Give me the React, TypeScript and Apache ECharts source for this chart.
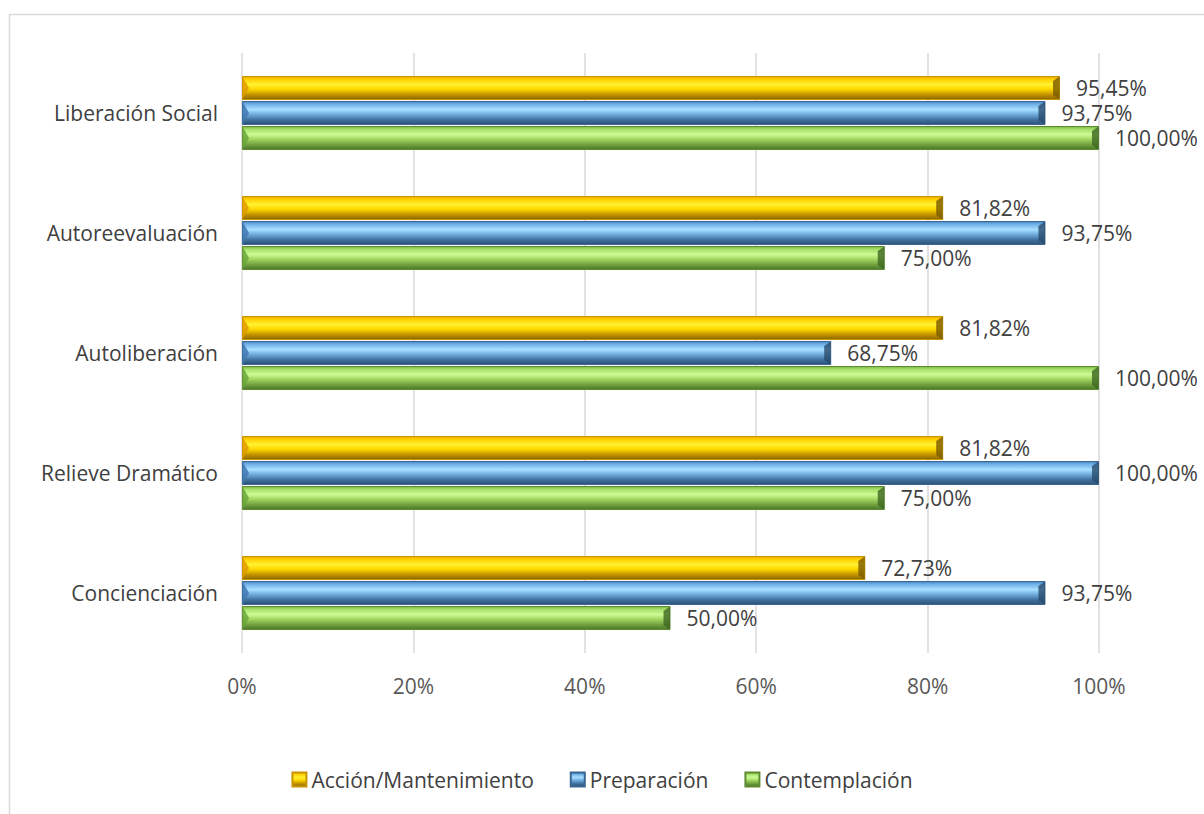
import React, { useEffect, useRef } from "react";
import * as echarts from "echarts";

const categories = [
  "Concienciación",
  "Relieve Dramático",
  "Autoliberación",
  "Autoreevaluación",
  "Liberación Social",
];
const seriesNames = ["Acción/Mantenimiento", "Preparación", "Contemplación"];
const accion = [72.73, 81.82, 81.82, 81.82, 95.45];
const preparacion = [93.75, 100.0, 68.75, 93.75, 93.75];
const contemplacion = [50.0, 75.0, 100.0, 75.0, 100.0];
const xTicks = [0, 20, 40, 60, 80, 100];

const FONT = "'Open Sans', 'Noto Sans', sans-serif";
const FS = 21;
const BAR_W = 24;
const GAP = 1;

const grad = (stops: [number, string][]) =>
  new echarts.graphic.LinearGradient(
    0,
    0,
    0,
    1,
    stops.map(([offset, color]) => ({ offset, color }))
  );

const yellow = grad([
  [0, "#E8A800"],
  [0.12, "#FFD000"],
  [0.35, "#FFF030"],
  [0.55, "#FFD800"],
  [0.8, "#C09000"],
  [1, "#8A6800"],
]);
const blue = grad([
  [0, "#4A86C4"],
  [0.12, "#6FB0E8"],
  [0.35, "#A8DEFF"],
  [0.55, "#72AEE0"],
  [0.8, "#40709E"],
  [1, "#2C5278"],
]);
const green = grad([
  [0, "#78B840"],
  [0.12, "#A6E06A"],
  [0.35, "#CCFA94"],
  [0.55, "#A2D864"],
  [0.8, "#6E9E3C"],
  [1, "#4C762A"],
]);

const bevels = [
  { left: "#E09A00", right: "#7A5A00" },
  { left: "#3F78B4", right: "#284A6C" },
  { left: "#6AA63A", right: "#3E6622" },
];

const fmt = (v: number) => v.toFixed(2).replace(".", ",") + "%";

export default function App() {
  const ref = useRef<HTMLDivElement>(null);
  useEffect(() => {
    document.body.style.margin = "0";
    const chart = echarts.init(ref.current!, null, { renderer: "svg" });
    const label = {
      show: true,
      position: "right" as const,
      distance: 16,
      color: "#404040",
      fontSize: FS,
      fontFamily: FONT,
      formatter: (p: any) => fmt(p.value),
    };
    const mk = (name: string, data: number[], color: any, border: string) => ({
      name,
      type: "bar",
      data,
      barWidth: BAR_W,
      barGap: (GAP / BAR_W) * 100 + "%",
      itemStyle: { color, borderColor: border, borderWidth: 1 },
      label,
    });
    const all = [accion, preparacion, contemplacion];
    const total = 3 * BAR_W + 2 * GAP;
    const bevelSeries = all.map((arr, k) => ({
      type: "custom",
      silent: true,
      z: 3,
      data: arr.map((v, i) => [v, i]),
      renderItem: (params: any, api: any) => {
        const v = api.value(0);
        const idx = api.value(1);
        const end = api.coord([v, idx]);
        const start = api.coord([0, idx]);
        const y0 = end[1] - total / 2 + k * (BAR_W + GAP);
        const x0 = start[0];
        const x1 = end[0];
        const h = BAR_W;
        const b = 7;
        return {
          type: "group",
          children: [
            {
              type: "polygon",
              shape: {
                points: [
                  [x0 + 0.5, y0 + 0.5],
                  [x0 + b, y0 + h / 2],
                  [x0 + 0.5, y0 + h - 0.5],
                ],
              },
              style: { fill: bevels[k].left, opacity: 0.85 },
            },
            {
              type: "polygon",
              shape: {
                points: [
                  [x1 - 0.5, y0 + 0.5],
                  [x1 - b, y0 + b * 0.7],
                  [x1 - b, y0 + h - b * 0.7],
                  [x1 - 0.5, y0 + h - 0.5],
                ],
              },
              style: { fill: bevels[k].right, opacity: 0.8 },
            },
          ],
        };
      },
    }));
    chart.setOption({
      animation: false,
      backgroundColor: "#ffffff",
      textStyle: { fontFamily: FONT },
      graphic: [
        {
          type: "rect",
          shape: { x: 9.5, y: 14.5, width: 1300, height: 900 },
          style: { fill: "none", stroke: "#D9D9D9", lineWidth: 1.5 },
          silent: true,
        },
      ],
      grid: { left: 242, right: 105, top: 53, bottom: 161 },
      legend: {
        data: seriesNames,
        bottom: 19,
        left: "center",
        itemWidth: 14,
        itemHeight: 14,
        itemGap: 36,
        icon: "rect",
        textStyle: {
          color: "#404040",
          fontSize: FS,
          fontFamily: FONT,
          padding: [0, 0, 0, 0],
        },
      },
      xAxis: {
        type: "value",
        min: 0,
        max: 100,
        interval: 20,
        axisLine: { show: false },
        axisTick: { show: false },
        splitLine: { lineStyle: { color: "#D9D9D9", width: 1.5 } },
        axisLabel: {
          formatter: (v: number) => (xTicks.includes(v) ? v + "%" : ""),
          color: "#595959",
          fontSize: FS,
          fontFamily: FONT,
          margin: 22,
        },
      },
      yAxis: {
        type: "category",
        data: categories,
        axisLine: { show: false },
        axisTick: { show: false },
        axisLabel: {
          color: "#404040",
          fontSize: FS,
          fontFamily: FONT,
          margin: 24,
        },
      },
      series: [
        mk(seriesNames[0], accion, yellow, "#C89400"),
        mk(seriesNames[1], preparacion, blue, "#3A6690"),
        mk(seriesNames[2], contemplacion, green, "#5E8A34"),
        ...bevelSeries,
      ],
    });
    return () => chart.dispose();
  }, []);
  return <div ref={ref} style={{ width: 1204, height: 814 }} />;
}
